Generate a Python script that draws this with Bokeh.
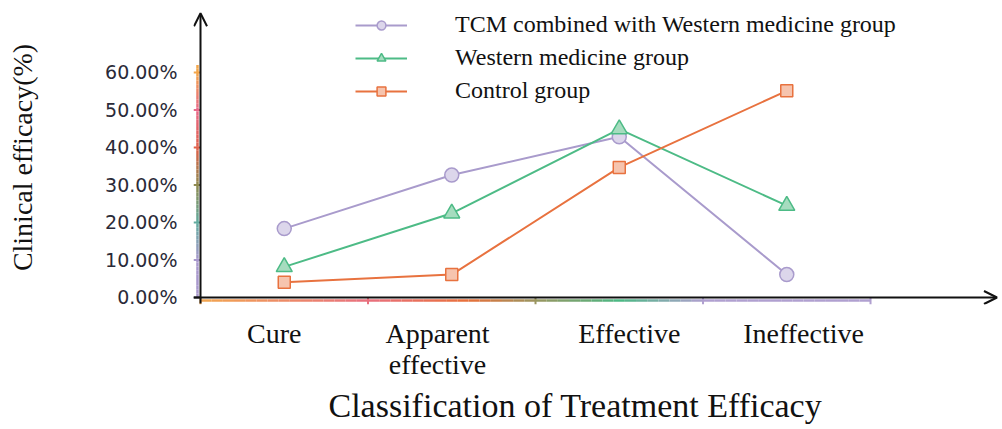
from bokeh.plotting import figure
from bokeh.models import (Range1d, FixedTicker, PrintfTickFormatter, Arrow, OpenHead,
                          Legend, LegendItem, Title)
from bokeh.embed import file_html
from bokeh.resources import INLINE

categories = ["Cure", "Apparent\neffective", "Effective", "Ineffective"]
tcm_western = [18.37, 32.65, 42.86, 6.12]
western = [8.16, 22.45, 44.90, 24.49]
control = [4.08, 6.12, 34.69, 55.10]
y_ticks = [0, 10, 20, 30, 40, 50, 60]
series_names = ["TCM combined with Western medicine group", "Western medicine group", "Control group"]

# styling lists
label_shift = [-0.06, -0.085, 0.06, 0.10]       # label nudges (x units)
y_tick_colors = ["#2a2a38", "#a898cc", "#62ab9f", "#8f8a50", "#e0604a", "#e8698a", "#f3a64a"]
x_tick_colors = ["#f2a650", "#e8707f", "#9a9660", "#b0a0d0", "#b0a0d0"]
x_stripe_stops = [(0.0, "#f2a650"), (1.0, "#e8707f"), (1.6, "#e8703a"), (2.0, "#9a9660"),
                  (2.5, "#4cb884"), (3.0, "#b0a0d0"), (4.0, "#b0a0d0")]
y_stripe_stops = [(0, "#a898cc"), (10, "#a898cc"), (20, "#62ab9f"), (30, "#8f8a50"),
                  (40, "#e0604a"), (50, "#e8698a"), (60, "#f3a64a"), (62, "#f3a64a")]

xs = [i + 0.5 for i in range(len(categories))]
bounds = list(range(len(categories) + 1))


def hex2rgb(h):
    return tuple(int(h[i:i + 2], 16) for i in (1, 3, 5))


def gradient(stops, n):
    lo, hi = stops[0][0], stops[-1][0]
    pts = [lo + (hi - lo) * k / n for k in range(n + 1)]
    cols = []
    for k in range(n):
        m = (pts[k] + pts[k + 1]) / 2
        for (a, ca), (b, cb) in zip(stops[:-1], stops[1:]):
            if a <= m <= b:
                t = (m - a) / (b - a) if b > a else 0
                r1, r2 = hex2rgb(ca), hex2rgb(cb)
                cols.append("#%02x%02x%02x" % tuple(int(r1[j] + (r2[j] - r1[j]) * t) for j in range(3)))
                break
    return pts[:-1], pts[1:], cols


# frame: left 193, right 998, top 10, bottom 304 (page px)
x0 = -0.0418
y0 = -1.867
p = figure(width=998, height=428, x_range=Range1d(x0, 4.764), y_range=Range1d(y0, 76.53),
           output_backend="svg", toolbar_location=None,
           min_border_left=193, min_border_right=0, min_border_top=10, min_border_bottom=124)
p.grid.visible = False
p.outline_line_color = None
p.background_fill_color = "white"
p.border_fill_color = "white"

# x axis (labels only; ticks drawn as coloured segments)
xa = p.xaxis[0]
xa.ticker = FixedTicker(ticks=[x + s for x, s in zip(xs, label_shift)], minor_ticks=[])
xa.major_label_overrides = {x + s: c for x, s, c in zip(xs, label_shift, categories)}
xa.major_tick_line_color = None
xa.axis_line_color = None
xa.major_label_text_font = "Liberation Serif"
xa.major_label_text_font_size = "28px"
xa.major_label_text_line_height = 1.0
xa.major_label_text_color = "#111111"
xa.major_label_standoff = 7

# y axis
ya = p.yaxis[0]
ya.ticker = FixedTicker(ticks=y_ticks, minor_ticks=[])
ya.formatter = PrintfTickFormatter(format="%.2f%%")
ya.major_tick_line_color = None
ya.axis_line_color = None
ya.major_label_text_font = "DejaVu Sans"
ya.major_label_text_font_size = "19px"
ya.major_label_text_color = "#2a2a38"
ya.major_label_standoff = 10
ya.axis_label = "Clinical efficacy(%)"
ya.axis_label_text_font = "Liberation Serif"
ya.axis_label_text_font_size = "28px"
ya.axis_label_text_font_style = "normal"
ya.axis_label_text_color = "#111111"
ya.axis_label_standoff = 64

# coloured stripes beside the axes
sx0, sx1, scol = gradient(x_stripe_stops, 60)
p.segment(x0=sx0, y0=-0.8, x1=sx1, y1=-0.8, line_color=scol, line_width=2.5)
ty0, ty1, tcol = gradient(y_stripe_stops, 60)
p.segment(x0=-0.018, y0=ty0, x1=-0.018, y1=ty1, line_color=tcol, line_width=2.5)

# coloured tick marks
p.segment(x0=[x0] * len(y_ticks), y0=y_ticks, x1=[0] * len(y_ticks), y1=y_ticks,
          line_color=y_tick_colors, line_width=2)
p.segment(x0=bounds, y0=[0] * len(bounds), x1=bounds, y1=[y0] * len(bounds),
          line_color=x_tick_colors, line_width=2)

# axis lines with arrow heads
p.add_layout(Arrow(end=OpenHead(size=13, line_width=2, line_color="#111111"),
                   x_start=0, y_start=-1.6, x_end=0, y_end=75.8,
                   line_width=2, line_color="#111111"))
p.add_layout(Arrow(end=OpenHead(size=13, line_width=2, line_color="#111111"),
                   x_start=x0, y_start=0, x_end=4.755, y_end=0,
                   line_width=2, line_color="#111111"))

styles = [
    dict(color="#a99bcc", fill="#dcd6eb", marker="circle", size=14),
    dict(color="#4dbb86", fill="#a6dcbf", marker="triangle", size=16),
    dict(color="#e8723f", fill="#f6c4ae", marker="square", size=12),
]
items = []
for name, vals, st in zip(series_names, [tcm_western, western, control], styles):
    lr = p.line(xs, vals, line_color=st["color"], line_width=2)
    sr = p.scatter(xs, vals, marker=st["marker"], size=st["size"], fill_color=st["fill"],
                   line_color=st["color"], line_width=1.5)
    items.append(LegendItem(label=name, renderers=[lr, sr]))

legend = Legend(items=items, location=(162, 200), padding=0, margin=0, spacing=6,
                glyph_width=52, glyph_height=22, label_height=22, label_standoff=48,
                label_text_font="Liberation Serif", label_text_font_size="24px",
                label_text_color="#111111", border_line_color=None,
                background_fill_alpha=0)
p.add_layout(legend)

t = Title(text="Classification of Treatment Efficacy", align="left", offset=135,
          text_font="Liberation Serif", text_font_size="34px", text_font_style="normal",
          text_color="#111111", standoff=4)
p.add_layout(t, "below")

open("out.html", "w").write(file_html(p, INLINE))
